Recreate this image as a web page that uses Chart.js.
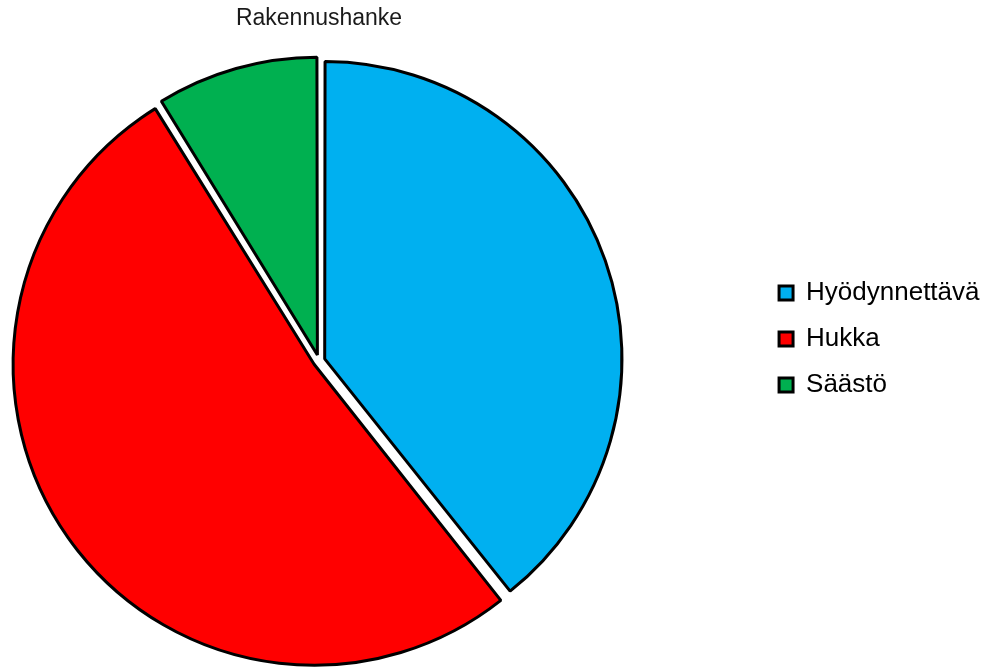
<!DOCTYPE html>
<html>
<head>
<meta charset="utf-8">
<script src="https://cdn.jsdelivr.net/npm/chart.js@4/dist/chart.umd.min.js"></script>
<style>
  html, body { margin: 0; padding: 0; background: #fff; }
  #wrap { position: relative; width: 1003px; height: 668px; overflow: hidden; }
  /* kangas on leveämpi kuin näkymä, jotta ympyrä osuu vasemmalle */
  #pie { position: absolute; left: -121px; top: 0; }
</style>
</head>
<body>
<div id="wrap"><canvas id="pie" width="1124" height="678"></canvas></div>
<script>
// Kaavion tiedot (luettu kuvasta)
const otsikko = "Rakennushanke";
const luokat = ["Hyödynnettävä", "Hukka", "Säästö"];
const osuudet = [39.3, 51.9, 8.8];
const varit = ["#00B0F0", "#FF0000", "#00B050"];

const fontti = "'Liberation Sans', Arial, sans-serif";

new Chart(document.getElementById("pie"), {
  type: "pie",
  data: {
    labels: luokat,
    datasets: [{
      data: osuudet,
      backgroundColor: varit,
      borderColor: "#000",
      borderWidth: 3,
      offset: 24,
      hoverOffset: 0,
      radius: 295
    }]
  },
  options: {
    responsive: false,
    animation: false,
    layout: { padding: { left: 0, right: 13.5, top: 0, bottom: 0 } },
    plugins: {
      title: {
        display: true,
        text: otsikko,
        fullSize: false,
        color: "#1a1a1a",
        font: { family: fontti, size: 23, weight: "normal" },
        padding: { top: 5, bottom: 11 }
      },
      legend: {
        position: "right",
        labels: {
          color: "#000",
          font: { family: fontti, size: 26 },
          boxWidth: 14,
          boxHeight: 14,
          padding: 20
        }
      },
      tooltip: { enabled: false }
    }
  }
});
</script>
</body>
</html>
